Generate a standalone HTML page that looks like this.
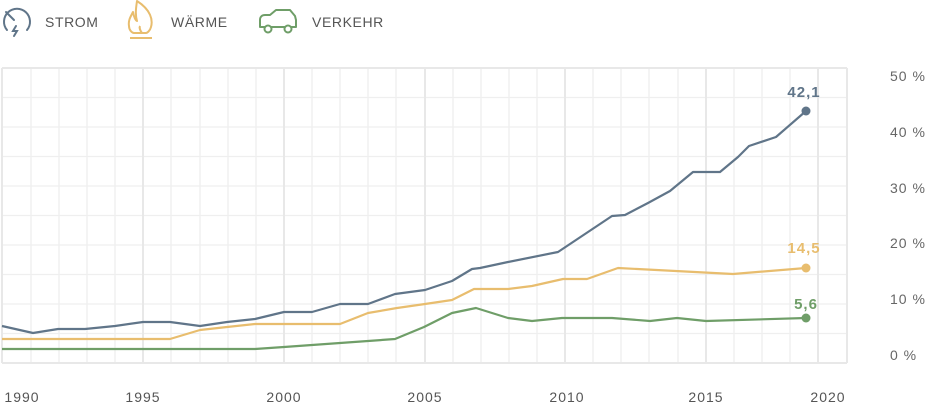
<!DOCTYPE html>
<html><head><meta charset="utf-8"><style>
html,body{margin:0;padding:0;background:#fff;}
body{width:928px;height:411px;overflow:hidden;font-family:"Liberation Sans",sans-serif;}
</style></head><body>
<svg width="928" height="411" xmlns="http://www.w3.org/2000/svg" font-family="Liberation Sans, sans-serif">
<!-- legend -->
<g fill="none" stroke="#607589" stroke-width="2" stroke-linecap="round">
<path d="M7 30 A13 13 0 1 1 27 30"/>
<path d="M6 12 L14 20"/>
<path d="M16 26 L13 31 L17 31 L14 36"/>
</g>
<text x="45" y="27" font-size="14" fill="#555" letter-spacing="0.6">STROM</text>
<g fill="none" stroke="#e8bd6e" stroke-width="2" stroke-linejoin="round">
<path d="M137 1 C151 10 153 20 151 27 C150 31 147 33 146 33 L134 33 C132 33 129 30 129 26 C128 20 131 16 133 12 C134 17 135 20 137 21 C135 14 136 8 137 1Z"/>
<path d="M142 33 C140 30 139 28 140 26"/>
<path d="M130 38 L152 38"/>
</g>
<text x="171" y="27" font-size="14" fill="#555" letter-spacing="0.6">WÄRME</text>
<g fill="none" stroke="#6f9e68" stroke-width="2" stroke-linejoin="round">
<path d="M260 27 L260 20 C260 17 262 15 265 15 L270 15 L276 10 L290 10 L295 16 L296 20 L296 27 Z"/>
<circle cx="268" cy="29" r="3.5" fill="#fff"/>
<circle cx="288" cy="29" r="3.5" fill="#fff"/>
</g>
<text x="312" y="27" font-size="14" fill="#555" letter-spacing="0.6">VERKEHR</text>
<!-- grid -->
<g stroke="#efefef" stroke-width="1.3">
<line x1="2" y1="97.5" x2="847" y2="97.5"/><line x1="2" y1="127" x2="847" y2="127"/>
<line x1="2" y1="156.5" x2="847" y2="156.5"/><line x1="2" y1="186" x2="847" y2="186"/>
<line x1="2" y1="215.5" x2="847" y2="215.5"/><line x1="2" y1="245" x2="847" y2="245"/>
<line x1="2" y1="274.5" x2="847" y2="274.5"/><line x1="2" y1="304" x2="847" y2="304"/>
<line x1="2" y1="333.5" x2="847" y2="333.5"/>
<line x1="31" y1="68" x2="31" y2="363"/><line x1="59" y1="68" x2="59" y2="363"/>
<line x1="87" y1="68" x2="87" y2="363"/><line x1="115" y1="68" x2="115" y2="363"/>
<line x1="171" y1="68" x2="171" y2="363"/><line x1="200" y1="68" x2="200" y2="363"/>
<line x1="228" y1="68" x2="228" y2="363"/><line x1="256" y1="68" x2="256" y2="363"/>
<line x1="312" y1="68" x2="312" y2="363"/><line x1="340" y1="68" x2="340" y2="363"/>
<line x1="368" y1="68" x2="368" y2="363"/><line x1="396" y1="68" x2="396" y2="363"/>
<line x1="453" y1="68" x2="453" y2="363"/><line x1="481" y1="68" x2="481" y2="363"/>
<line x1="509" y1="68" x2="509" y2="363"/><line x1="537" y1="68" x2="537" y2="363"/>
<line x1="593" y1="68" x2="593" y2="363"/><line x1="621" y1="68" x2="621" y2="363"/>
<line x1="649" y1="68" x2="649" y2="363"/><line x1="678" y1="68" x2="678" y2="363"/>
<line x1="734" y1="68" x2="734" y2="363"/><line x1="762" y1="68" x2="762" y2="363"/>
<line x1="790" y1="68" x2="790" y2="363"/>
</g>
<g stroke="#e8e8e8" stroke-width="2">
<line x1="2" y1="68" x2="847" y2="68"/><line x1="2" y1="363" x2="847" y2="363"/>
<line x1="2" y1="68" x2="2" y2="363"/><line x1="847" y1="68" x2="847" y2="363"/>
<line x1="143" y1="68" x2="143" y2="363"/><line x1="284" y1="68" x2="284" y2="363"/>
<line x1="425" y1="68" x2="425" y2="363"/><line x1="565" y1="68" x2="565" y2="363"/>
<line x1="706" y1="68" x2="706" y2="363"/><line x1="818" y1="68" x2="818" y2="363"/>
</g>
<!-- series -->
<g fill="none" stroke-width="2.2" stroke-linejoin="round">
<polyline stroke="#6f9e68" points="2,349 255,349 284,347 340,343 368,341 395,339 424,327 452,313 476,308 508,318 532,321 562,318 612,318 650,321 677,318 706,321 806,318"/>
<polyline stroke="#e8bd6e" points="2,339 170,339 200,330 227,327 255,324 340,324 368,313 397,308 425,304 452,300 474,289 508,289 532,286 563,279 587,279 618,268 733,274 806,268"/>
<polyline stroke="#607589" points="2,326 33,333 58,329 85,329 115,326 143,322 170,322 200,326 227,322 255,319 284,312 312,312 340,304 368,304 395,294 425,290 452,281 472,269 480,268 508,262 558,252 612,216 625,215 648,203 670,191 693,172 720,172 738,157 749,146 776,137 806,111"/>
</g>
<circle cx="806" cy="111" r="4.5" fill="#607589"/>
<circle cx="806" cy="268" r="4.5" fill="#e8bd6e"/>
<circle cx="806" cy="318" r="4.5" fill="#6f9e68"/>
<g font-size="15" font-weight="bold" text-anchor="middle" letter-spacing="1">
<text x="804" y="97" fill="#607589">42,1</text>
<text x="804" y="253" fill="#e8bd6e">14,5</text>
<text x="806" y="309" fill="#6f9e68">5,6</text>
</g>
<!-- y labels -->
<g font-size="14" fill="#666" letter-spacing="1">
<text x="890" y="81">50 %</text><text x="890" y="137">40 %</text>
<text x="890" y="193">30 %</text><text x="890" y="248">20 %</text>
<text x="890" y="304">10 %</text><text x="890" y="360">0 %</text>
</g>
<!-- x labels -->
<g font-size="14" fill="#555" letter-spacing="1" text-anchor="middle">
<text x="22" y="402">1990</text><text x="143" y="402">1995</text>
<text x="284" y="402">2000</text><text x="425" y="402">2005</text>
<text x="567" y="402">2010</text><text x="706" y="402">2015</text>
<text x="828" y="402">2020</text>
</g>
</svg>
</body></html>
